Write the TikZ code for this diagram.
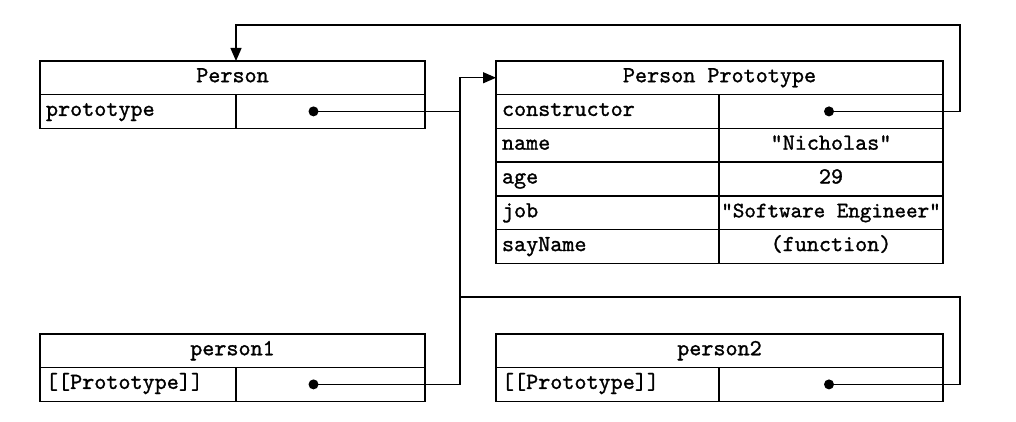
\documentclass[tikz,border=0pt]{standalone}
\usepackage{fontspec}
\newfontfamily\boxfont{lmmono10-regular.otf}[FakeBold=1.2]
\usetikzlibrary{arrows.meta, positioning, calc}

\begin{document}
\begin{tikzpicture}[
    x=1pt, y=-1pt,
    every node/.style={font=\boxfont\fontsize{23}{24}\selectfont, outer sep=0pt},
    head/.style={rectangle, draw, line width=1.3pt, minimum height=33.5pt, inner sep=0pt, text height=13pt, text depth=4pt, anchor=north west},
    keycell/.style={rectangle, draw, line width=1.3pt, minimum height=33.8pt, inner xsep=6pt, inner ysep=0pt, text height=13pt, text depth=4pt, align=left, anchor=north west},
    valcell/.style={rectangle, draw, line width=1.3pt, minimum height=33.8pt, inner sep=0pt, text height=13pt, text depth=4pt, anchor=north west},
    wire/.style={line width=1.3pt},
    link/.style={line width=1.3pt, -{Triangle[length=13pt,width=11pt]}}
]
\useasboundingbox (0,0) rectangle (1016,422);

% Person
\node[head, minimum width=385pt] (personhead) at (40,61) {Person};
\node[keycell, text width=184pt, minimum width=196pt] (personkey) at (personhead.south west) {prototype};
\node[valcell, minimum width=189pt] (personval) at (personkey.north east) {};

% Person Prototype
\node[head, minimum width=447pt] (protohead) at (496,61) {Person Prototype};
\node[keycell, text width=211pt, minimum width=223pt] (ctorkey) at (protohead.south west) {constructor};
\node[valcell, minimum width=224pt] (ctorval) at (ctorkey.north east) {};
\node[keycell, text width=211pt, minimum width=223pt] (namekey) at (ctorkey.south west) {name};
\node[valcell, minimum width=224pt] (nameval) at (namekey.north east) {"Nicholas"};
\node[keycell, text width=211pt, minimum width=223pt] (agekey) at (namekey.south west) {age};
\node[valcell, minimum width=224pt] (ageval) at (agekey.north east) {29};
\node[keycell, text width=211pt, minimum width=223pt] (jobkey) at (agekey.south west) {job};
\node[valcell, minimum width=224pt, font=\boxfont\fontsize{22}{24}\selectfont] (jobval) at (jobkey.north east) {"Software Engineer"};
\node[keycell, text width=211pt, minimum width=223pt] (saykey) at (jobkey.south west) {sayName};
\node[valcell, minimum width=224pt] (sayval) at (saykey.north east) {(function)};

% person1 and person2
\node[head, minimum width=385pt] (p1head) at (40,334) {person1};
\node[keycell, text width=184pt, minimum width=196pt] (p1key) at (p1head.south west) {[[Prototype]]};
\node[valcell, minimum width=189pt] (p1val) at (p1key.north east) {};
\node[head, minimum width=447pt] (p2head) at (496,334) {person2};
\node[keycell, text width=211pt, minimum width=223pt] (p2key) at (p2head.south west) {[[Prototype]]};
\node[valcell, minimum width=224pt] (p2val) at (p2key.north east) {};

% pointer dots
\coordinate (persondot) at ($(personval.center)+(-17,0)$);
\coordinate (ctordot) at ($(ctorval.center)+(-2,0)$);
\coordinate (p1dot) at ($(p1val.center)+(-17,0)$);
\coordinate (p2dot) at ($(p2val.center)+(-2,0)$);
\foreach \d in {persondot, ctordot, p1dot, p2dot}
    \fill (\d) circle (5);

% bends
\coordinate (bus) at (460,0);
\coordinate (topright) at (960,25);
\coordinate (loopright) at (960,297);

\draw[link] (persondot) -| (bus |- persondot) |- (protohead.west);
\draw[wire] (p1dot) -| (bus |- persondot);
\draw[wire] (p2dot) -| (loopright) -- (loopright -| bus);
\draw[link] (ctordot) -| (topright) -| (personhead.north -| personkey.east);

\end{tikzpicture}
\end{document}
